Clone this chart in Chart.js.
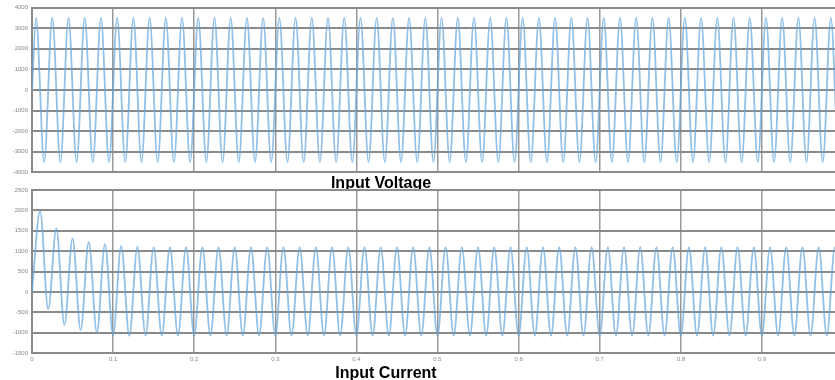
<!DOCTYPE html>
<html>
<head>
<meta charset="utf-8">
<script src="https://cdn.jsdelivr.net/npm/chart.js@4"></script>
<style>
  html, body { margin: 0; padding: 0; background: #fff; overflow: hidden; width: 835px; height: 380px; }
  canvas { position: absolute; left: 0; }
  #cv-volt { top: 0; }
  #cv-curr { top: 180px; }
  .ttl { position: absolute; width: 200px; text-align: center; font-family: "Liberation Sans", Arial, sans-serif;
         font-weight: bold; font-size: 16px; line-height: 18px; color: #000; }
</style>
</head>
<body>
<canvas id="cv-volt" width="850" height="180"></canvas>
<div class="ttl" style="left:281px;top:174px;">Input Voltage</div>
<canvas id="cv-curr" width="850" height="190"></canvas>
<div class="ttl" style="left:286px;top:364px;">Input Current</div>
<script>
/* =================================================
   DATA (peaks / troughs)
================================================= */
// voltage: start, every crest and trough, end
const voltTime = [
  0,
  0.005, 0.015, 0.025, 0.035, 0.045, 0.055, 0.065, 0.075, 0.085, 0.095,
  0.105, 0.115, 0.125, 0.135, 0.145, 0.155, 0.165, 0.175, 0.185, 0.195,
  0.205, 0.215, 0.225, 0.235, 0.245, 0.255, 0.265, 0.275, 0.285, 0.295,
  0.305, 0.315, 0.325, 0.335, 0.345, 0.355, 0.365, 0.375, 0.385, 0.395,
  0.405, 0.415, 0.425, 0.435, 0.445, 0.455, 0.465, 0.475, 0.485, 0.495,
  0.505, 0.515, 0.525, 0.535, 0.545, 0.555, 0.565, 0.575, 0.585, 0.595,
  0.605, 0.615, 0.625, 0.635, 0.645, 0.655, 0.665, 0.675, 0.685, 0.695,
  0.705, 0.715, 0.725, 0.735, 0.745, 0.755, 0.765, 0.775, 0.785, 0.795,
  0.805, 0.815, 0.825, 0.835, 0.845, 0.855, 0.865, 0.875, 0.885, 0.895,
  0.905, 0.915, 0.925, 0.935, 0.945, 0.955, 0.965, 0.975, 0.985, 0.995,
  1
];
const voltValue = [
  0,
  3500, -3500, 3500, -3500, 3500, -3500, 3500, -3500, 3500, -3500,
  3500, -3500, 3500, -3500, 3500, -3500, 3500, -3500, 3500, -3500,
  3500, -3500, 3500, -3500, 3500, -3500, 3500, -3500, 3500, -3500,
  3500, -3500, 3500, -3500, 3500, -3500, 3500, -3500, 3500, -3500,
  3500, -3500, 3500, -3500, 3500, -3500, 3500, -3500, 3500, -3500,
  3500, -3500, 3500, -3500, 3500, -3500, 3500, -3500, 3500, -3500,
  3500, -3500, 3500, -3500, 3500, -3500, 3500, -3500, 3500, -3500,
  3500, -3500, 3500, -3500, 3500, -3500, 3500, -3500, 3500, -3500,
  3500, -3500, 3500, -3500, 3500, -3500, 3500, -3500, 3500, -3500,
  3500, -3500, 3500, -3500, 3500, -3500, 3500, -3500, 3500, -3500,
  0
];

// current: inrush with decaying offset, then steady
const currTime = [
  0, 0.01, 0.02, 0.03, 0.04, 0.05, 0.06, 0.07, 0.08, 0.09,
  0.10, 0.11, 0.12, 0.13, 0.14, 0.15, 0.16, 0.17, 0.18, 0.19,
  0.20, 0.21, 0.22, 0.23, 0.24, 0.25, 0.26, 0.27, 0.28, 0.29,
  0.30, 0.31, 0.32, 0.33, 0.34, 0.35, 0.36, 0.37, 0.38, 0.39,
  0.40, 0.41, 0.42, 0.43, 0.44, 0.45, 0.46, 0.47, 0.48, 0.49,
  0.50, 0.51, 0.52, 0.53, 0.54, 0.55, 0.56, 0.57, 0.58, 0.59,
  0.60, 0.61, 0.62, 0.63, 0.64, 0.65, 0.66, 0.67, 0.68, 0.69,
  0.70, 0.71, 0.72, 0.73, 0.74, 0.75, 0.76, 0.77, 0.78, 0.79,
  0.80, 0.81, 0.82, 0.83, 0.84, 0.85, 0.86, 0.87, 0.88, 0.89,
  0.90, 0.91, 0.92, 0.93, 0.94, 0.95, 0.96, 0.97, 0.98, 0.99,
  1
];
const currValue = [
  0, 1990, -425, 1556, -810, 1310, -940, 1227, -997, 1170,
  -1062, 1130, -1080, 1110, -1075, 1100, -1075, 1100, -1075, 1100,
  -1075, 1100, -1075, 1100, -1075, 1100, -1075, 1100, -1075, 1100,
  -1075, 1100, -1075, 1100, -1075, 1100, -1075, 1100, -1075, 1100,
  -1075, 1100, -1075, 1100, -1075, 1100, -1075, 1100, -1075, 1100,
  -1075, 1100, -1075, 1100, -1075, 1100, -1075, 1100, -1075, 1100,
  -1075, 1100, -1075, 1100, -1075, 1100, -1075, 1100, -1075, 1100,
  -1075, 1100, -1075, 1100, -1075, 1100, -1075, 1100, -1075, 1100,
  -1075, 1100, -1075, 1100, -1075, 1100, -1075, 1100, -1075, 1100,
  -1075, 1100, -1075, 1100, -1075, 1100, -1075, 1100, -1075, 1100,
  -1075
];

const voltTicks = { min: -4000, max: 4000, step: 1000 };
const currTicks = { min: -1500, max: 2500, step: 500 };
const timeTicks = { min: 0, max: 1, step: 0.1 };

/* =================================================
   CHARTS
================================================= */
const TRACE = 'rgba(100,165,220,0.7)';
const GRID = '#8a8a8a';

function toPoints(xs, ys) {
  return xs.map((x, i) => ({ x, y: ys[i] }));
}

function scopeChart(id, xs, ys, yt, showX, pad) {
  return new Chart(document.getElementById(id), {
    type: 'line',
    data: {
      datasets: [{
        data: toPoints(xs, ys),
        borderColor: TRACE,
        borderWidth: 1.8,
        pointRadius: 0,
        cubicInterpolationMode: 'monotone',
        fill: false
      }]
    },
    options: {
      responsive: false, animation: false, devicePixelRatio: 1,
      layout: { padding: pad },
      plugins: { legend: { display: false }, tooltip: { enabled: false } },
      scales: {
        x: {
          type: 'linear', min: timeTicks.min, max: timeTicks.max,
          afterFit: s => { s.height = showX ? 17 : 0; },
          grid: { color: '#999', lineWidth: 1.5, drawTicks: false },
          border: { color: GRID, width: 2 },
          ticks: {
            display: showX, stepSize: timeTicks.step, padding: 3,
            color: '#888', font: { size: 6, family: 'Arial' },
            callback: v => String(+v.toFixed(1))
          }
        },
        y: {
          min: yt.min, max: yt.max,
          afterFit: s => { s.width = 32; },
          grid: { color: GRID, lineWidth: 2, drawTicks: false },
          border: { color: GRID, width: 2 },
          ticks: {
            stepSize: yt.step, padding: 4,
            color: '#888', font: { size: 6, family: 'Arial' },
            callback: v => String(v)
          }
        }
      }
    }
  });
}

scopeChart('cv-volt', voltTime, voltValue, voltTicks, false, { top: 7, bottom: 7, right: 7, left: 0 });
scopeChart('cv-curr', currTime, currValue, currTicks, true, { top: 10, bottom: 0, right: 7, left: 0 });
</script>
</body>
</html>
